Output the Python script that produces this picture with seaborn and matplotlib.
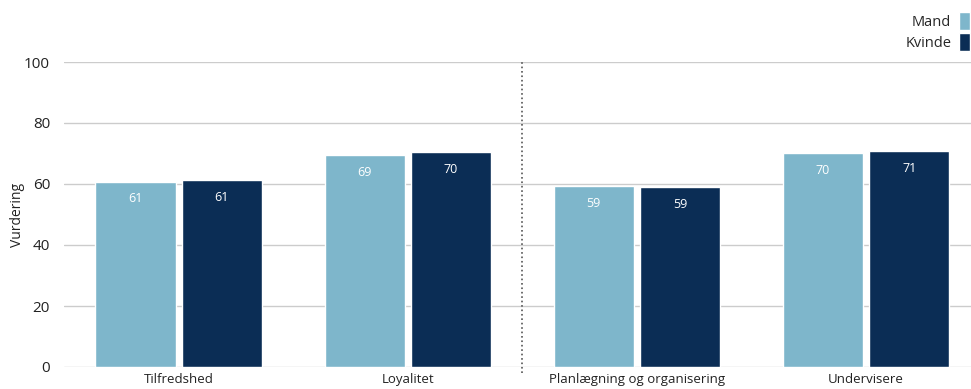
import numpy as np
import pandas as pd
import matplotlib
matplotlib.use('Agg')
import matplotlib.pyplot as plt
from matplotlib.patches import Patch
import seaborn as sns

sns.set_style("white")
plt.rcParams['font.family'] = ['Open Sans', 'DejaVu Sans']

# data
categories = ['Tilfredshed', 'Loyalitet', 'Planlægning og organisering', 'Undervisere']
mand = [60.7, 69.5, 59.3, 70.2]
kvinde = [61.3, 70.5, 59.0, 70.8]
mand_labels = [61, 69, 59, 70]
kvinde_labels = [61, 70, 59, 71]
groups = ['Mand', 'Kvinde']
colors = ['#7EB6CB', '#0B2D55']

df = pd.DataFrame({
    'Kategori': categories * 2,
    'Køn': ['Mand'] * len(categories) + ['Kvinde'] * len(categories),
    'Vurdering': mand + kvinde,
})

fig = plt.figure(figsize=(9.71, 3.89), dpi=100)
ax = fig.add_axes([64 / 971, 1 - 367 / 389, 1 - 64 / 971, (367 - 62) / 389])

sns.barplot(data=df, x='Kategori', y='Vurdering', hue='Køn', hue_order=groups,
            palette=colors, width=0.752, gap=0.07, saturation=1,
            errorbar=None, legend=False, ax=ax)

# value labels inside the bars
for cont, labs in zip(ax.containers, [mand_labels, kvinde_labels]):
    ax.bar_label(cont, labels=[str(v) for v in labs], label_type='edge',
                 padding=-17, color='white', fontsize=9)

ax.set_ylim(0, 100)
ax.set_xlim(-0.5, 3.458)
ax.set_yticks(range(0, 101, 20))
ax.yaxis.grid(True, color='#cccccc', linewidth=1)
ax.set_axisbelow(True)
for s in ax.spines.values():
    s.set_visible(False)
ax.tick_params(axis='both', length=0, labelsize=11, colors='#222222')
ax.tick_params(axis='x', labelsize=9.5, pad=4)
ax.tick_params(axis='y', pad=10)
ax.set_xlabel('')
ax.set_ylabel('Vurdering', fontsize=10, color='#222222')
ax.yaxis.set_label_coords(-0.043, 0.5)

# dotted divider between the two blocks
ax.axvline(1.5, ymin=-0.02, ymax=1, color='#555555', linestyle=':', linewidth=1.2, clip_on=False)

handles = [Patch(facecolor=c, label=g) for c, g in zip(colors, groups)]
fig.legend(handles=handles, loc='upper right', bbox_to_anchor=(1.0, 0.972),
           frameon=False, markerfirst=False, fontsize=10.5,
           handlelength=0.75, handleheight=1.5, handletextpad=0.5,
           labelspacing=0.2, borderaxespad=0, borderpad=0.1)

fig.savefig('out.png', dpi=100)
